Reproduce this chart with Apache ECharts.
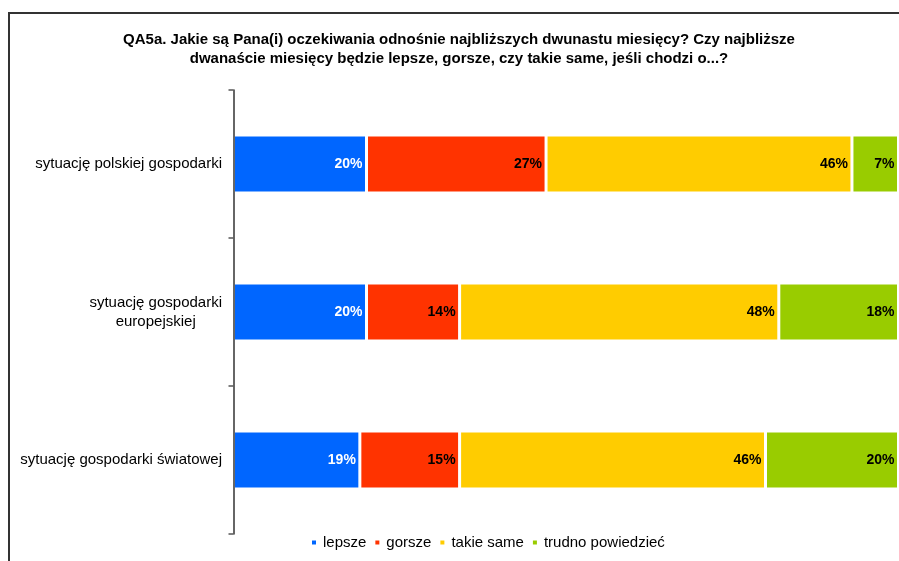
<!DOCTYPE html>
<html>
<head>
<meta charset="utf-8">
<script src="https://cdn.jsdelivr.net/npm/echarts@6/dist/echarts.min.js"></script>
<style>html,body{margin:0;padding:0;background:#fff}#c{width:899px;height:561px}</style>
</head>
<body>
<div id="c"></div>
<script>
const categories = ['sytuację polskiej gospodarki', 'sytuację gospodarki\neuropejskiej', 'sytuację gospodarki światowej'];
const seriesNames = ['lepsze', 'gorsze', 'takie same', 'trudno powiedzieć'];
const lepsze = [20, 20, 19];
const gorsze = [27, 14, 15];
const takieSame = [46, 48, 46];
const trudno = [7, 18, 20];
const colors = ['#0066FF', '#FF3300', '#FFCC00', '#99CC00'];
const labelColors = ['#FFFFFF', '#000000', '#000000', '#000000'];
const values = [lepsze, gorsze, takieSame, trudno];

const chart = echarts.init(document.getElementById('c'));
const font = 'Liberation Sans, Arial, sans-serif';
chart.setOption({
  animation: false,
  textStyle: { fontFamily: font },
  title: {
    text: 'QA5a. Jakie są Pana(i) oczekiwania odnośnie najbliższych dwunastu miesięcy? Czy najbliższe\ndwanaście miesięcy będzie lepsze, gorsze, czy takie same, jeśli chodzi o...?',
    left: 454, top: 25, textAlign: 'center',
    textStyle: { fontFamily: font, fontSize: 15, fontWeight: 'bold', color: '#000', lineHeight: 19 }
  },
  graphic: [{
    type: 'polyline',
    shape: { points: [[9, 561], [9, 13], [899, 13]] },
    style: { stroke: '#333', lineWidth: 2, fill: null }
  }],
  legend: {
    data: seriesNames,
    bottom: 6, left: 305,
    icon: 'rect', itemWidth: 6, itemHeight: 6, itemGap: 7,
    textStyle: { fontFamily: font, fontSize: 15, color: '#000', padding: [0, 0, 0, 1] }
  },
  grid: { left: 233.5, right: 0.5, top: 90, bottom: 27, containLabel: false },
  xAxis: { type: 'value', min: 0, max: 100, show: false },
  yAxis: {
    type: 'category', inverse: true, data: categories, z: 10, offset: 1.5,
    axisLine: { show: true, lineStyle: { color: '#333', width: 1.5 } },
    axisTick: { show: true, length: 5, lineStyle: { color: '#555', width: 1.5 } },
    axisLabel: {
      margin: 10, fontSize: 15, color: '#000', fontFamily: font, lineHeight: 19,
      formatter: function (v) {
        const parts = v.split('\n');
        return parts.map(p => '{c|' + p + '}').join('\n');
      },
      rich: { c: { align: 'center', fontSize: 15, color: '#000', fontFamily: font, lineHeight: 19 } }
    }
  },
  series: values.map((vals, i) => ({
    name: seriesNames[i], type: 'bar', stack: 'all', data: vals,
    barWidth: 58,
    itemStyle: { color: colors[i], borderColor: '#fff', borderWidth: 1.5 },
    label: {
      show: true, position: 'insideRight', distance: 4,
      formatter: '{c}%', fontFamily: font, fontSize: 14, fontWeight: 'bold', color: labelColors[i]
    }
  }))
});
</script>
</body>
</html>
